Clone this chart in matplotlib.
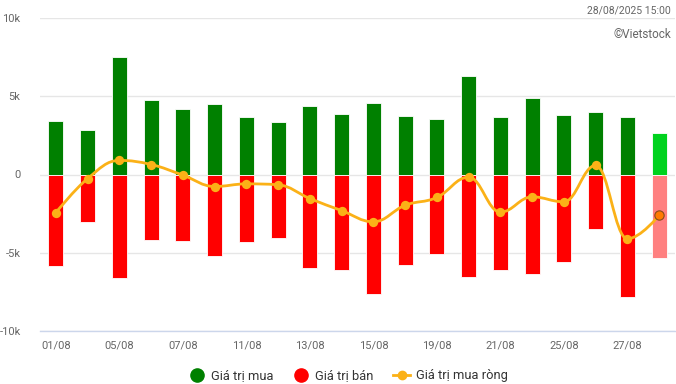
import matplotlib
matplotlib.use("Agg")
import matplotlib.pyplot as plt
from matplotlib.path import Path
from matplotlib.patches import PathPatch
from matplotlib.lines import Line2D
import numpy as np

plt.rcParams['font.family'] = ['Roboto', 'DejaVu Sans']

dates = ["01/08", "04/08", "05/08", "06/08", "07/08", "08/08", "11/08", "12/08",
         "13/08", "14/08", "15/08", "18/08", "19/08", "20/08", "21/08", "22/08",
         "25/08", "26/08", "27/08", "28/08"]
buy = [3.40, 2.82, 7.50, 4.74, 4.17, 4.49, 3.65, 3.33, 4.36, 3.85,
       4.55, 3.72, 3.53, 6.28, 3.65, 4.87, 3.78, 3.97, 3.65, 2.63]
sell = [-5.88, -3.06, -6.60, -4.17, -4.23, -5.24, -4.29, -4.04, -5.96, -6.13,
        -7.63, -5.77, -5.06, -6.54, -6.09, -6.35, -5.58, -3.46, -7.82, -5.32]
net = [-2.44, -0.26, 0.90, 0.64, -0.04, -0.77, -0.60, -0.66, -1.54, -2.31,
       -3.03, -1.97, -1.47, -0.17, -2.41, -1.43, -1.75, 0.58, -4.12, -2.61]

GREEN = "#008000"
RED = "#ff0000"
LINE = "#fbb117"


def spline_path(xs, ys, smoothing=1.5):
    # highcharts style spline through the points
    denom = smoothing + 1
    n = len(xs)
    verts = [(xs[0], ys[0])]
    codes = [Path.MOVETO]
    conts = []
    for i in range(n):
        if i == 0 or i == n - 1:
            conts.append(((xs[i], ys[i]), (xs[i], ys[i])))
            continue
        lx = (smoothing * xs[i] + xs[i - 1]) / denom
        ly = (smoothing * ys[i] + ys[i - 1]) / denom
        rx = (smoothing * xs[i] + xs[i + 1]) / denom
        ry = (smoothing * ys[i] + ys[i + 1]) / denom
        corr = ((ry - ly) * (rx - xs[i])) / (rx - lx) + ys[i] - ry
        ly += corr
        ry += corr
        if ly > ys[i - 1] and ly > ys[i]:
            ly = max(ys[i - 1], ys[i])
            ry = 2 * ys[i] - ly
        elif ly < ys[i - 1] and ly < ys[i]:
            ly = min(ys[i - 1], ys[i])
            ry = 2 * ys[i] - ly
        if ry > ys[i + 1] and ry > ys[i]:
            ry = max(ys[i + 1], ys[i])
            ly = 2 * ys[i] - ry
        elif ry < ys[i + 1] and ry < ys[i]:
            ry = min(ys[i + 1], ys[i])
            ly = 2 * ys[i] - ry
        conts.append(((lx, ly), (rx, ry)))
    for i in range(1, n):
        verts += [conts[i - 1][1], conts[i][0], (xs[i], ys[i])]
        codes += [Path.CURVE4] * 3
    return Path(verts, codes)


fig = plt.figure(figsize=(6.76, 3.84), dpi=100)
ax = fig.add_axes([40 / 676, 53.3 / 384, 635 / 676, 312.4 / 384])

x = np.arange(len(dates))
buy_colors = [GREEN] * (len(x) - 1) + ["#00d21e"]
sell_colors = [RED] * (len(x) - 1) + ["#ff8080"]
ax.bar(x, buy, width=0.47, color=buy_colors, edgecolor="white", linewidth=0.6, zorder=2)
ax.bar(x, sell, width=0.47, color=sell_colors, edgecolor="white", linewidth=0.6, zorder=2)

ax.add_patch(PathPatch(spline_path(list(x), net), facecolor="none", edgecolor=LINE,
                       linewidth=2, zorder=3))
ax.scatter(x[:-1], net[:-1], s=45, color=LINE, zorder=4, linewidths=0)
ax.scatter(x[-1:], net[-1:], s=45, color="#ff7a00", edgecolor="#8a4b1a",
           linewidths=0.8, zorder=4)

ax.set_xlim(-0.5, len(x) - 0.5)
ax.set_ylim(-10, 10)
ax.set_yticks([-10, -5, 0, 5, 10])
ax.set_yticklabels(["-10k", "-5k", "0", "5k", "10k"])
ax.set_xticks(x[::2])
ax.set_xticklabels(dates[::2])
ax.tick_params(axis="both", length=0, labelsize=8, labelcolor="#666666")
ax.tick_params(axis="y", pad=14)
ax.tick_params(axis="x", pad=7)
ax.grid(axis="y", color="#e6e6e6", linewidth=1, zorder=0)
ax.set_axisbelow(True)
for s in ["top", "right", "left"]:
    ax.spines[s].set_visible(False)
ax.spines["bottom"].set_color("#ccd6eb")
ax.spines["bottom"].set_linewidth(1)

fig.text(671 / 676, 1 - 10 / 384, "28/08/2025 15:00", ha="right", va="center",
         fontsize=7.5, color="#666666")
fig.text(671 / 676, 1 - 34 / 384, "©Vietstock", ha="right", va="center",
         fontsize=8.5, color="#666666")

handles = [
    Line2D([], [], marker="o", linestyle="none", color=GREEN, markersize=9.5),
    Line2D([], [], marker="o", linestyle="none", color=RED, markersize=9.5),
    Line2D([], [], marker="o", linestyle="-", color=LINE, markersize=6, linewidth=2),
]
fig.legend(handles, ["Giá trị mua", "Giá trị bán", "Giá trị mua ròng"],
           loc="center", bbox_to_anchor=(348 / 676, 1 - 376 / 384), ncol=3, frameon=False,
           fontsize=9.3, labelcolor="#333333", handlelength=1.3, handletextpad=0.45,
           columnspacing=1.5)

fig.savefig("out.png", dpi=100)
